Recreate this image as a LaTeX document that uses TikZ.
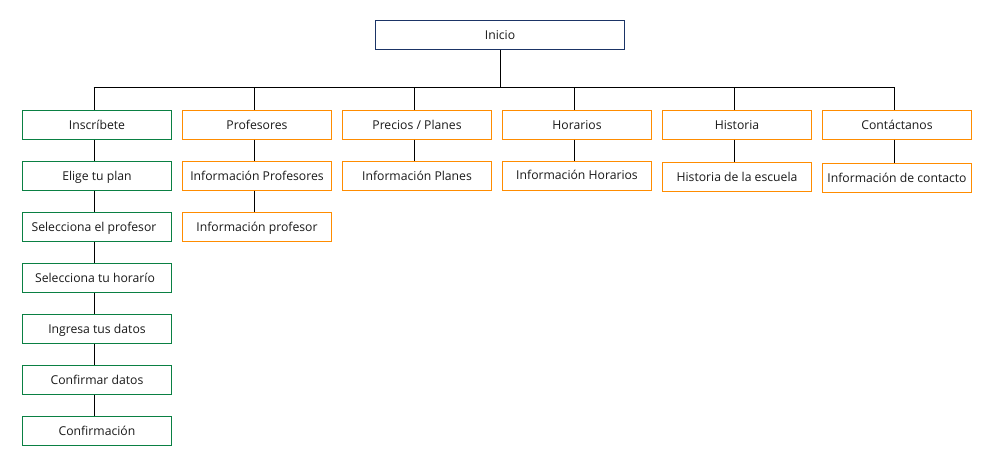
\documentclass[tikz,border=0pt]{standalone}
\usepackage{fontspec}
\setmainfont{Open Sans}
\definecolor{cgreen}{HTML}{0A8043}
\definecolor{corange}{HTML}{FF8C00}
\definecolor{cnavy}{HTML}{1B3466}
\definecolor{ctext}{HTML}{1A1A1A}
\begin{document}
\begin{tikzpicture}[x=1pt,y=-1pt,
  box/.style={draw,line width=1pt,fill=white,minimum width=149pt,minimum height=29pt,inner sep=0pt,text height=13pt,text depth=3pt,font=\fontsize{12.2}{14}\selectfont,text=ctext,anchor=north west},
  gbox/.style={box,draw=cgreen},
  obox/.style={box,draw=corange},
  nbox/.style={box,draw=cnavy,minimum width=249pt},
  link/.style={draw=black,line width=1pt}]
\useasboundingbox (0,0) rectangle (1000,450);
\node[nbox] (inicio) at (375,19.5) {Inicio};
% top level
\node[gbox] (ins) at (22,109.5) {Inscríbete};
\node[obox] (prof) at (182,109.5) {Profesores};
\node[obox] (prec) at (342,109.5) {Precios / Planes};
\node[obox] (hor) at (502,109.5) {Horarios};
\node[obox] (hist) at (662,109.5) {Historia};
\node[obox] (cont) at (822,109.5) {Contáctanos};
% column 1
\node[gbox] (elige) at (22,160.5) {Elige tu plan};
\node[gbox] (selp) at (22,211.5) {\hspace*{-6pt}Selecciona el profesor};
\node[gbox] (selh) at (22,262.5) {\hspace*{-4pt}Selecciona tu horarío};
\node[gbox] (ingr) at (22,313.5) {Ingresa tus datos};
\node[gbox] (conf) at (22,364.5) {Confirmar datos};
\node[gbox] (confn) at (22,415.5) {Confirmación};
% others
\node[obox] (infprof) at (182,160.5) {Información Profesores};
\node[obox] (infprof2) at (182,211.5) {Información profesor};
\node[obox] (infplan) at (342,160.5) {Información Planes};
\node[obox] (infhor) at (502,160.5) {\raisebox{1pt}{Información Horarios}};
\node[obox] (histesc) at (662,161.5) {Historia de la escuela};
\node[obox] (infcont) at (822,162.5) {Información de contacto};
% bus
\coordinate (bus) at (500,87);
\coordinate (busL) at (93.5,87);
\coordinate (busR) at (893.5,87);
\draw[link] (inicio.south -| bus) -- (bus);
\draw[link] (busL) -- (busR);
\foreach \n in {ins,prof,prec,hor,hist,cont}{
  \draw[link] ([xshift=-3pt]\n.north) -- ([xshift=-3pt]\n.north |- bus);
}
\foreach \a/\b in {ins/elige,elige/selp,selp/selh,selh/ingr,ingr/conf,conf/confn,
  prof/infprof,infprof/infprof2,prec/infplan,hor/infhor,hist/histesc,cont/infcont}{
  \draw[link] ([xshift=-3pt]\a.south) -- ([xshift=-3pt]\b.north);
}
\end{tikzpicture}
\end{document}
